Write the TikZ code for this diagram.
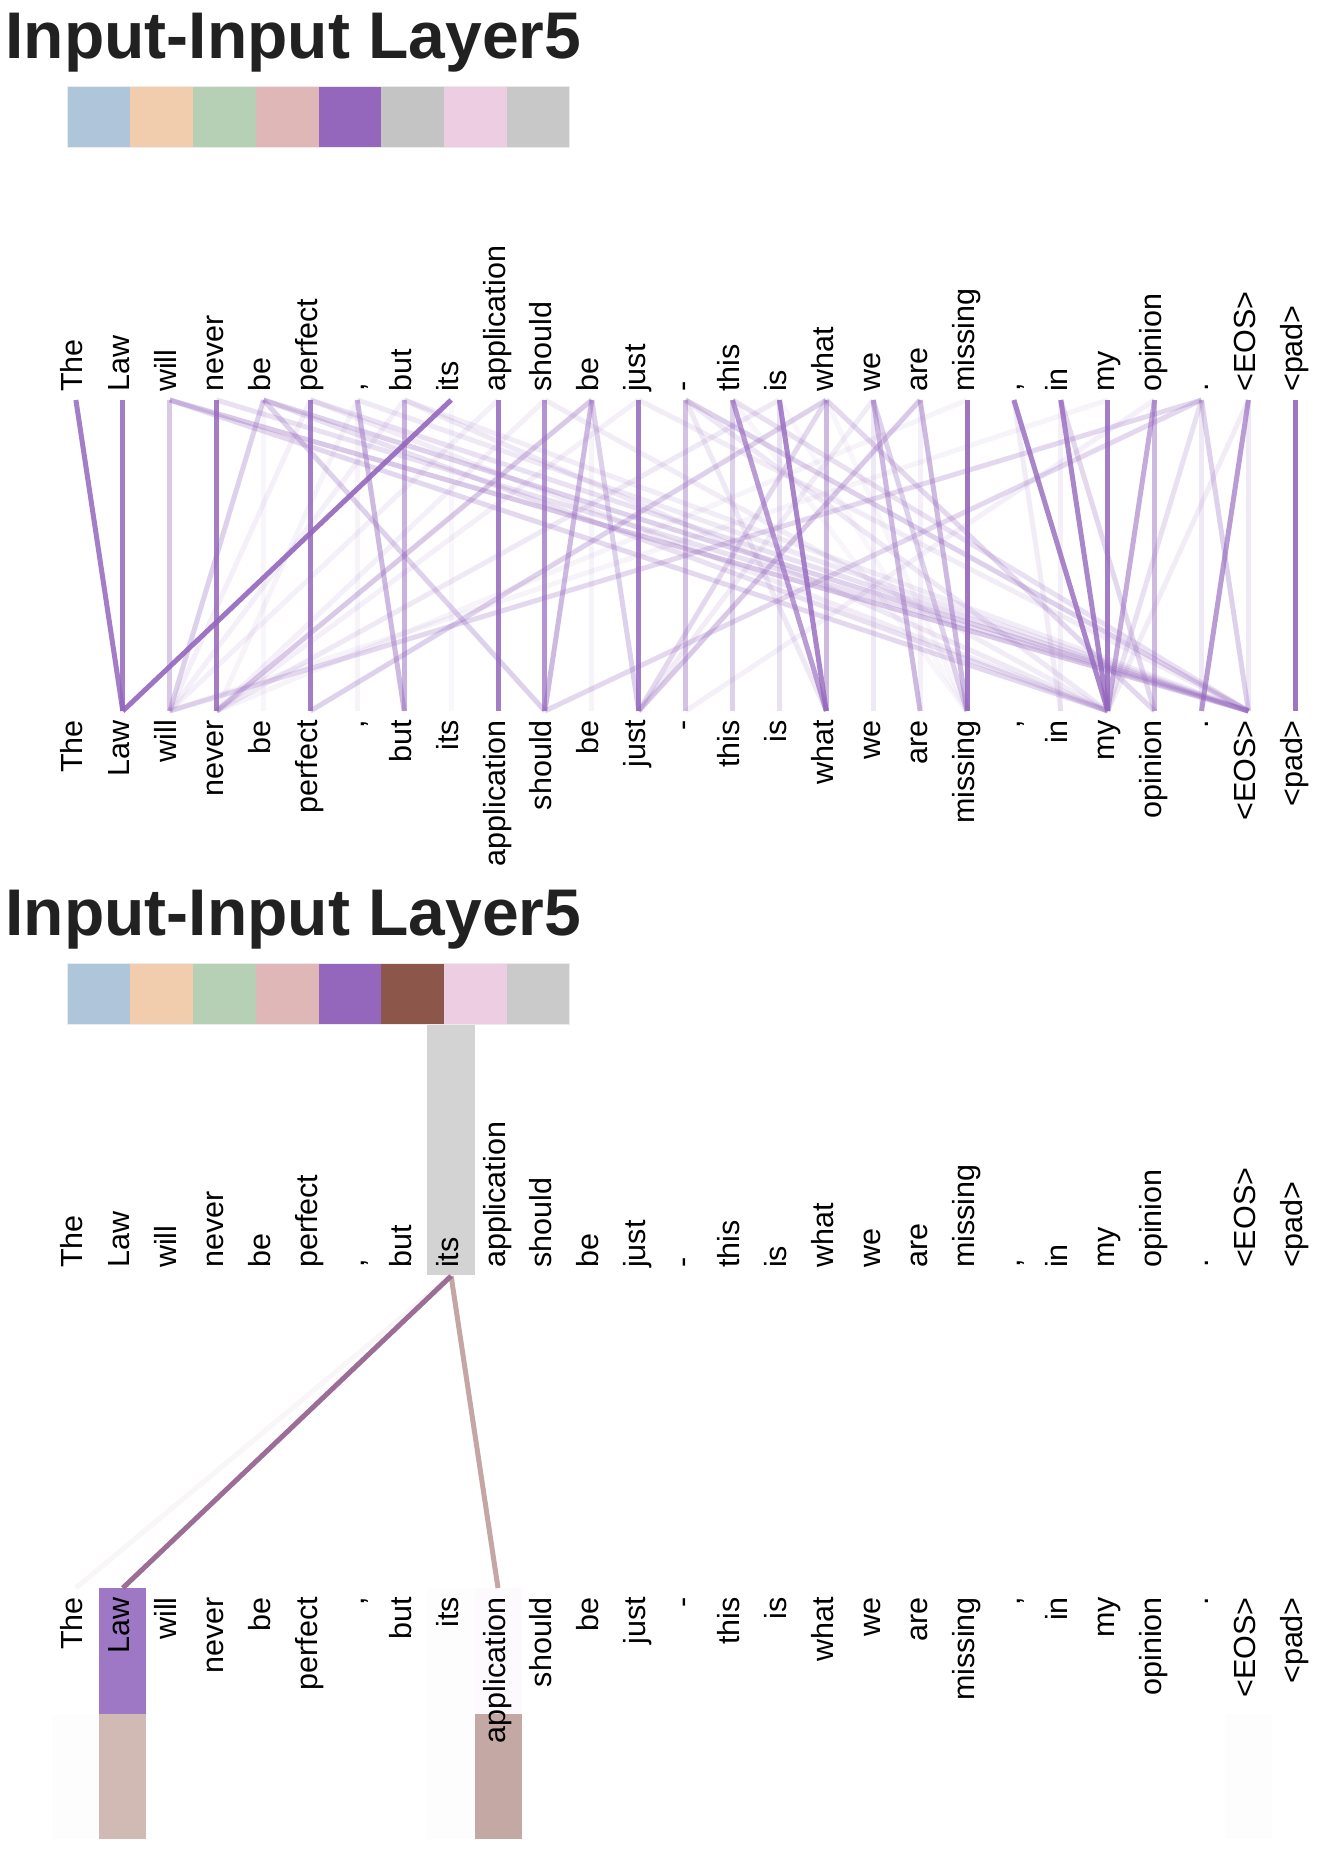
\documentclass[tikz,border=0pt]{standalone}
\usepackage{fontspec}
\setmainfont{Liberation Sans}
\definecolor{hpurple}{HTML}{9467BD}
\definecolor{titlegrey}{HTML}{212121}
\definecolor{cA}{HTML}{AFC6DA}
\definecolor{cB}{HTML}{F1CDAE}
\definecolor{cC}{HTML}{B5D0B5}
\definecolor{cD}{HTML}{DFB7B7}
\definecolor{cE}{HTML}{9467BD}
\definecolor{cF}{HTML}{C4C4C4}
\definecolor{cG}{HTML}{EDCDE1}
\definecolor{cH}{HTML}{C8C8C8}
\definecolor{cFb}{HTML}{8C564B}
\definecolor{cHb}{HTML}{CACACA}
\definecolor{selgrey}{HTML}{D3D3D3}
\definecolor{lawpurple}{HTML}{9E78C4}
\definecolor{lawtan}{HTML}{D0BAB3}
\definecolor{apptan}{HTML}{C4A8A3}
\definecolor{faintA}{HTML}{FDFDFD}
\definecolor{faintB}{HTML}{FCFAFD}
\definecolor{lineA}{HTML}{9B6D97}
\definecolor{lineB}{HTML}{C4A6A4}
\definecolor{lineC}{HTML}{F9F6F7}
\begin{document}
\begin{tikzpicture}[x=1pt,y=-1pt,
  att/.style={draw=hpurple, line width=5pt},
  lbl/.style={rotate=90, inner sep=0pt, font=\fontsize{30.5}{32}\selectfont, text=black},
  ttl/.style={anchor=base west, inner sep=0pt, font=\fontsize{66}{70}\selectfont\bfseries, text=titlegrey},
  cellframe/.style={draw=black!8, line width=0.8pt}]
\useasboundingbox (0,0) rectangle (1320,1849);
\fill[white] (0,0) rectangle (1320,1849);

% titles
\node[ttl] (title1) at (5.4,58.3) {Input-Input Layer5};
\node[ttl] (title2) at (5.4,935.5) {Input-Input Layer5};

% colour bars
\foreach \c [count=\k from 0] in {cA,cB,cC,cD,cE,cF,cG,cH}
  \fill[\c] (67.5+62.75*\k,86) rectangle ++(62.75,61.5);
\draw[cellframe] (67.5,86) rectangle (569.5,147.5);
\foreach \c [count=\k from 0] in {cA,cB,cC,cD,cE,cFb,cG,cHb}
  \fill[\c] (67.5+62.75*\k,963) rectangle ++(62.75,61.5);
\draw[cellframe] (67.5,963) rectangle (569.5,1024.5);

% anchor points
\foreach \i in {0,...,26} {
  \coordinate (t\i) at (75.9+46.9*\i,400);
  \coordinate (b\i) at (75.9+46.9*\i,711);
  \coordinate (T\i) at (75.9+46.9*\i,1276);
  \coordinate (B\i) at (75.9+46.9*\i,1588);
}

% panel 2 highlight boxes
\fill[selgrey] (427.4,1025) rectangle (474.6,1275);
\fill[faintA] (427.4,1588) rectangle (474.6,1839);
\fill[lawpurple] (99.3,1588) rectangle (146.3,1714);
\fill[lawtan] (99.3,1714) rectangle (146.3,1839);
\fill[faintB] (474.5,1588) rectangle (521.5,1714);
\fill[apptan] (474.5,1714) rectangle (521.5,1839);
\fill[faintA] (52.4,1714) rectangle (99.3,1839);
\fill[faintA] (1224.9,1714) rectangle (1271.9,1839);

% panel 1 attention lines
\foreach \a/\b/\o in {
  9/2/.1, 7/2/.1, 6/3/.08, 5/2/.1, 10/3/.1, 12/3/.1, 19/3/.08, 22/2/.08,
  14/19/.06, 16/19/.06, 17/12/.12, 13/16/.15, 15/19/.05, 23/13/.1, 25/22/.12,
  3/25/.2, 5/25/.2, 5/22/.12, 6/25/.15, 7/22/.15, 7/25/.12, 10/22/.12, 12/25/.12,
  15/3/.15, 13/22/.15, 14/25/.2,
  2/25/.35, 2/22/.25, 4/2/.3, 4/10/.3, 4/25/.3, 4/22/.2, 6/7/.45,
  11/3/.35, 11/10/.45, 11/12/.3, 16/5/.3, 16/12/.25, 18/12/.35,
  24/2/.25, 24/10/.25, 24/22/.2, 24/25/.3, 13/25/.3, 21/23/.25, 20/21/.12,
  17/19/.3, 16/23/.25,
  4/4/.06, 6/6/.08, 8/8/.05, 11/11/.08, 18/18/.1, 21/21/.1, 24/24/.15, 25/25/.15,
  2/2/.35, 7/7/.5, 13/13/.4, 14/14/.3, 15/15/.2, 16/16/.45, 17/17/.15,
  17/18/.45, 18/19/.45, 23/23/.45, 23/22/.55, 10/10/.7, 14/16/.65, 25/24/.65,
  0/1/.85, 1/1/.85, 3/3/.85, 5/5/.85, 8/1/.9, 9/9/.85, 12/12/.85, 15/16/.8,
  19/19/.9, 20/22/.8, 21/22/.8, 22/22/.85, 26/26/.9}
  \draw[att, draw opacity=\o] (t\a) -- (b\b);

% panel 2 attention lines
\draw[draw=lineC, line width=5pt] (T8) -- (B0);
\draw[draw=lineB, line width=5pt] (T8) -- (B9);
\draw[draw=lineA, line width=5pt] (T8) -- (B1);

% token labels
\foreach \w [count=\i from 0] in {The,Law,will,never,be,perfect,{,},but,its,application,should,be,just,-,this,is,what,we,are,missing,{,},in,my,opinion,.,<EOS>,<pad>} {
  \node[lbl, anchor=base west] (lu\i) at (82.9+46.9*\i,392) {\w};
  \node[lbl, anchor=base east] (ld\i) at (82.9+46.9*\i,720) {\w};
  \node[lbl, anchor=base west] (Lu\i) at (82.9+46.9*\i,1268) {\w};
  \node[lbl, anchor=base east] (Ld\i) at (82.9+46.9*\i,1597) {\w};
}
\end{tikzpicture}
\end{document}
